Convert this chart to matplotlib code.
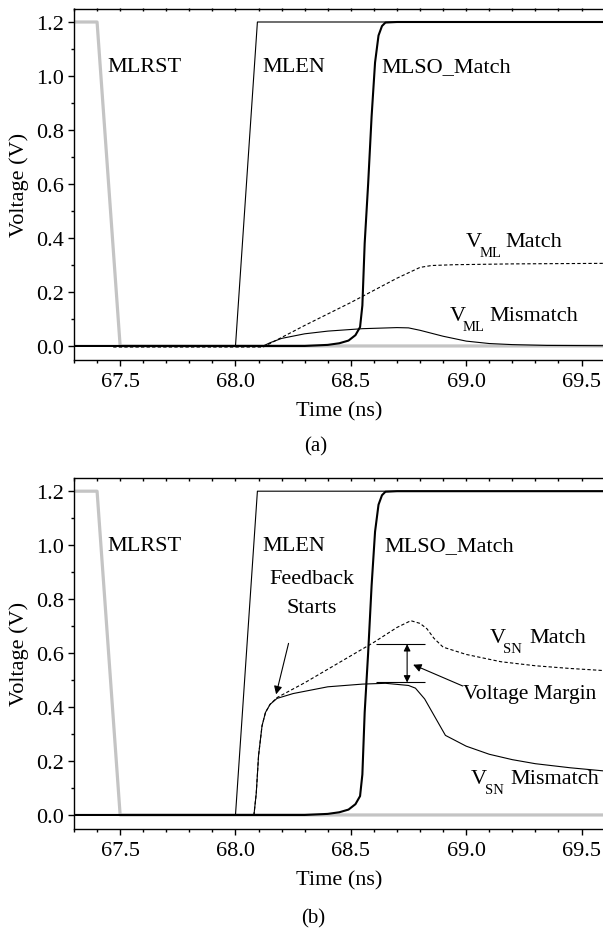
import numpy as np
import matplotlib
matplotlib.use("Agg")
import matplotlib.pyplot as plt
from matplotlib.ticker import MultipleLocator, FormatStrFormatter
from matplotlib.transforms import offset_copy

plt.rcParams['font.family'] = ['Liberation Serif', 'DejaVu Serif']

# ---- signals shared by both panels ----
t_mlrst = [67.3, 67.4, 67.5, 69.6]
v_mlrst = [1.2, 1.2, 0.0, 0.0]

t_mlen = [67.3, 68.0, 68.095, 69.6]
v_mlen = [0.0, 0.0, 1.2, 1.2]

t_mlso = [67.3, 68.3, 68.4, 68.45, 68.49, 68.52, 68.54, 68.55, 68.56, 68.575,
          68.59, 68.605, 68.62, 68.635, 68.65, 68.7, 69.6]
v_mlso = [0.0, 0.0, 0.004, 0.01, 0.02, 0.04, 0.07, 0.15, 0.38, 0.6,
          0.85, 1.05, 1.15, 1.185, 1.198, 1.2, 1.2]

# ---- panel (a): match line voltages ----
t_ml_match = [67.47, 68.12, 68.3, 68.5, 68.7, 68.8, 68.85, 68.95, 69.2, 69.6]
v_ml_match = [0.0, 0.0, 0.08, 0.165, 0.255, 0.295, 0.302, 0.305, 0.308, 0.31]

t_ml_mis = [67.3, 68.12, 68.15, 68.2, 68.3, 68.4, 68.55, 68.7, 68.75, 68.8,
            68.9, 69.0, 69.1, 69.2, 69.35, 69.6]
v_ml_mis = [0.0, 0.0, 0.012, 0.028, 0.045, 0.055, 0.064, 0.068, 0.067, 0.058,
            0.036, 0.018, 0.009, 0.005, 0.002, 0.001]

# ---- panel (b): sense node voltages ----
t_sn_match = [67.5, 68.08, 68.09, 68.10, 68.115, 68.13, 68.15, 68.18, 68.3, 68.4,
              68.5, 68.6, 68.7, 68.76, 68.8, 68.83, 68.86, 68.9, 69.0, 69.15,
              69.3, 69.45, 69.6]
v_sn_match = [0.0, 0.0, 0.08, 0.22, 0.33, 0.38, 0.41, 0.435, 0.49, 0.54,
              0.59, 0.64, 0.695, 0.72, 0.71, 0.69, 0.655, 0.622, 0.595, 0.568,
              0.553, 0.543, 0.535]

t_sn_mis = [67.5, 68.08, 68.09, 68.10, 68.115, 68.13, 68.15, 68.18, 68.25, 68.4,
            68.55, 68.65, 68.75, 68.78, 68.82, 68.86, 68.91, 69.0, 69.1, 69.2,
            69.3, 69.45, 69.6]
v_sn_mis = [0.0, 0.0, 0.08, 0.22, 0.33, 0.38, 0.41, 0.432, 0.45, 0.475,
            0.485, 0.488, 0.48, 0.47, 0.43, 0.37, 0.295, 0.255, 0.225, 0.205,
            0.19, 0.175, 0.163]

margin_hi = 0.633
margin_lo = 0.491

FS = 16
GRAY = '#c4c4c4'
DASH = (0, (3.0, 2.0))

fig = plt.figure(figsize=(6.03, 9.29), dpi=100)
ax_a = fig.add_axes([74/603, 1 - 361/929, 530.6/603, 351.5/929])
ax_b = fig.add_axes([74/603, 1 - 830/929, 530.6/603, 351.3/929])


def style_axes(ax):
    ax.set_xlim(67.3, 69.6)
    ax.set_ylim(-0.052, 1.25)
    ax.spines['right'].set_visible(False)
    for s in ['left', 'top', 'bottom']:
        ax.spines[s].set_linewidth(1.0)
    ax.xaxis.set_major_locator(MultipleLocator(0.5))
    ax.xaxis.set_minor_locator(MultipleLocator(0.1))
    ax.yaxis.set_major_locator(MultipleLocator(0.2))
    ax.yaxis.set_minor_locator(MultipleLocator(0.1))
    ax.xaxis.set_major_formatter(FormatStrFormatter('%.1f'))
    ax.yaxis.set_major_formatter(FormatStrFormatter('%.1f'))
    ax.tick_params(axis='x', which='both', direction='out', top=False, labelsize=FS, pad=4)
    ax.tick_params(axis='x', which='major', length=4.5, width=1.0)
    ax.tick_params(axis='x', which='minor', length=2.5, width=1.0)
    ax.tick_params(axis='y', which='both', direction='out', right=False, labelsize=FS, pad=3)
    ax.tick_params(axis='y', which='major', length=4.5, width=1.0)
    ax.tick_params(axis='y', which='minor', length=2.5, width=1.0)
    # ticks on the top edge, pointing inward
    sec = ax.secondary_xaxis('top')
    sec.xaxis.set_major_locator(MultipleLocator(0.1))
    sec.tick_params(direction='in', length=2.5, width=1.0, labeltop=False)
    sec.spines['top'].set_visible(False)
    ax.set_xlabel('Time (ns)', fontsize=FS, va='center')
    ax.xaxis.set_label_coords(0.5, -0.144)
    ax.set_ylabel('Voltage (V)', fontsize=FS, va='center')
    ax.yaxis.set_label_coords(-0.104, 0.5)


def sub_label(ax, x, y, sub, rest, sub_dx=13, rest_dx=39):
    # "V" with a small subscript, then the rest of the label (offsets in pixels)
    ax.text(x, y, 'V', fontsize=FS, va='center', ha='left')
    ax.text(x, y, sub, fontsize=10.5, va='center', ha='left',
            transform=offset_copy(ax.transData, fig=fig, x=sub_dx, y=-11, units='dots'))
    ax.text(x, y, rest, fontsize=FS, va='center', ha='left',
            transform=offset_copy(ax.transData, fig=fig, x=rest_dx, y=0, units='dots'))


for ax in (ax_a, ax_b):
    style_axes(ax)
    ax.plot(t_mlrst, v_mlrst, color=GRAY, lw=2.3, zorder=2)
    ax.plot(t_mlen, v_mlen, color='black', lw=0.8, zorder=3)
    ax.plot(t_mlso, v_mlso, color='black', lw=1.5, zorder=4)

# panel (a)
ax_a.plot(t_ml_match, np.array(v_ml_match) - 0.004, color='black', lw=0.8, ls=DASH, zorder=3)
ax_a.plot(t_ml_mis, v_ml_mis, color='black', lw=0.8, zorder=3)
ax_a.text(67.443, 1.035, 'MLRST', fontsize=FS, va='center', ha='left')
ax_a.text(68.115, 1.035, 'MLEN', fontsize=FS, va='center', ha='left')
ax_a.text(68.634, 1.035, 'MLSO_Match', fontsize=FS, va='center', ha='left')
sub_label(ax_a, 69.0, 0.388, 'ML', 'Match')
sub_label(ax_a, 68.93, 0.114, 'ML', 'Mismatch')

# panel (b)
ax_b.plot(t_sn_match, v_sn_match, color='black', lw=0.8, ls=DASH, zorder=3)
ax_b.plot(t_sn_mis, v_sn_mis, color='black', lw=0.8, zorder=3)
ax_b.text(67.443, 0.997, 'MLRST', fontsize=FS, va='center', ha='left')
ax_b.text(68.118, 0.997, 'MLEN', fontsize=FS, va='center', ha='left')
ax_b.text(68.646, 0.997, 'MLSO_Match', fontsize=FS, va='center', ha='left')
ax_b.text(68.33, 0.875, 'Feedback', fontsize=FS, va='center', ha='center')
ax_b.text(68.33, 0.77, 'Starts', fontsize=FS, va='center', ha='center')
ax_b.annotate('', xy=(68.176, 0.447), xytext=(68.23, 0.636),
              arrowprops=dict(arrowstyle='-|>', color='black', lw=0.8,
                              mutation_scale=12, shrinkA=0, shrinkB=0))
ax_b.hlines([margin_hi, margin_lo], 68.61, 68.82, color='black', lw=0.8)
ax_b.annotate('', xy=(68.744, margin_lo), xytext=(68.744, margin_hi),
              arrowprops=dict(arrowstyle='<|-|>', color='black', lw=0.8,
                              mutation_scale=10, shrinkA=0, shrinkB=0))
ax_b.annotate('', xy=(68.77, 0.557), xytext=(68.985, 0.478),
              arrowprops=dict(arrowstyle='-|>', color='black', lw=0.8,
                              mutation_scale=12, shrinkA=0, shrinkB=0))
ax_b.text(68.985, 0.45, 'Voltage Margin', fontsize=15.5, va='center', ha='left')
sub_label(ax_b, 69.1, 0.656, 'SN', 'Match', sub_dx=14, rest_dx=40)
sub_label(ax_b, 69.02, 0.137, 'SN', 'Mismatch', sub_dx=14, rest_dx=40)

fig.text(316/603, 1 - 447/929, '(a)', fontsize=FS - 1, ha='center', va='center')
fig.text(313/603, 1 - 919/929, '(b)', fontsize=FS - 1, ha='center', va='center')

fig.savefig('out.png', dpi=100)
